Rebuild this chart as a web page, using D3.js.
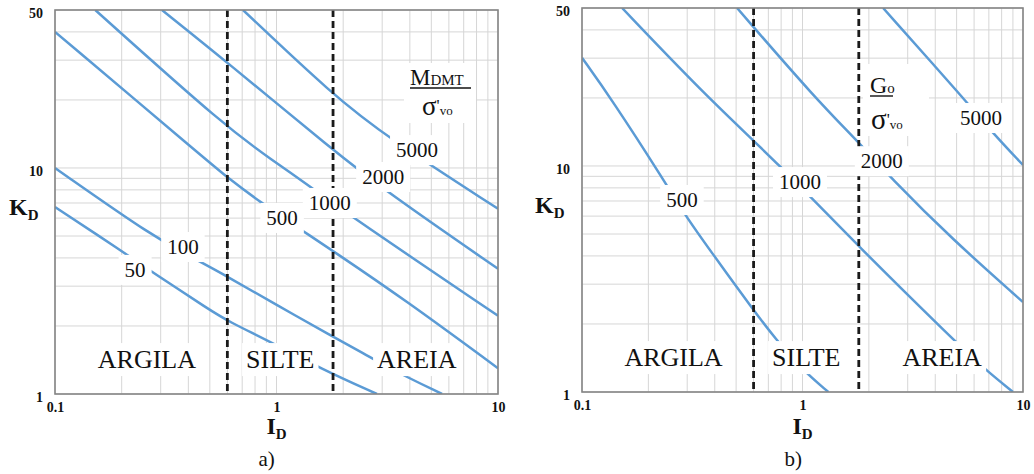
<!DOCTYPE html>
<html><head><meta charset="utf-8">
<script src="https://cdn.jsdelivr.net/npm/d3@7"></script>
<style>body{margin:0;background:#fff}svg{display:block}</style>
</head><body>
<svg id="c" width="1034" height="474"></svg>
<script>
// ---------- data ----------
const xTicks = [0.1, 1, 10];
const yTicks = [1, 10, 50];
const boundaries = [0.6, 1.8];
const zoneNames = ["ARGILA", "SILTE", "AREIA"];
const zoneID = [0.26, 1.04, 4.3];
const zoneKD = 1.42;

// a) M_DMT / sigma'vo
const mNames = ["50", "100", "500", "1000", "2000", "5000"];
const m50_ID   = [0.1, 0.203, 0.274, 0.501, 0.604, 0.964, 1.57, 2.84];
const m50_KD   = [6.72, 4.25, 3.47, 2.35, 2.10, 1.68, 1.30, 1.0];
const m100_ID  = [0.1, 0.283, 0.42, 0.617, 0.964, 1.80, 2.46, 3.32, 5.59];
const m100_KD  = [10, 4.90, 4.0, 3.26, 2.53, 1.79, 1.52, 1.28, 1.0];
const m500_ID  = [0.1, 0.486, 0.604, 0.843, 1.32, 1.80, 3.80, 10];
const m500_KD  = [40, 10.8, 9.03, 7.07, 5.25, 4.29, 2.61, 1.30];
const m1000_ID = [0.152, 0.598, 0.964, 1.39, 2.22, 10];
const m1000_KD = [50, 15.0, 10.8, 8.4, 6.01, 2.22];
const m2000_ID = [0.304, 0.598, 1.80, 3.15, 10];
const m2000_KD = [50, 29.4, 12.0, 7.83, 3.58];
const m5000_ID = [0.706, 1.80, 3.19, 10];
const m5000_KD = [50, 21.0, 13.6, 6.6];
const mLabelID = [0.23, 0.378, 1.06, 1.74, 3.03, 4.31];
const mLabelKD = [3.54, 4.47, 6.01, 7.0, 9.12, 12.0];

// b) G0 / sigma'vo
const gNames = ["500", "1000", "2000", "5000"];
const g500_ID  = [0.1, 0.137, 0.238, 0.293, 0.380, 0.597, 0.750, 1.00, 1.31];
const g500_KD  = [30.1, 19.6, 8.49, 6.07, 4.25, 2.31, 1.73, 1.25, 1.0];
const g1000_ID = [0.152, 0.380, 0.774, 1.82, 4.76, 6.59, 9.01];
const g1000_KD = [50, 19.6, 10.3, 4.34, 1.73, 1.28, 1.0];
const g2000_ID = [0.505, 1.16, 1.79, 2.49, 4.81, 10];
const g2000_KD = [50, 19.6, 12.8, 8.94, 4.71, 2.50];
const g5000_ID = [2.32, 5.46, 7.24, 10];
const g5000_KD = [50, 19.6, 14.1, 10.1];
const gLabelID = [0.284, 0.974, 2.29, 6.45];
const gLabelKD = [7.07, 8.49, 10.5, 16.3];

// ---------- drawing ----------
const svg = d3.select("#c");
svg.append("rect").attr("width", 1034).attr("height", 474).attr("fill", "#fff");
const SERIF = "'Liberation Serif','Times New Roman',serif";
const BLUE = "#5b9bd5";

function zip(a, b) { return a.map((v, i) => [v, b[i]]); }

function labelBox(g, x, y, txt, size, padX, padY) {
  const grp = g.append("g");
  const t = grp.append("text").attr("x", x).attr("y", y).attr("text-anchor", "middle")
    .attr("dominant-baseline", "central").attr("font-family", SERIF).attr("font-size", size)
    .attr("fill", "#111").text(txt);
  const b = t.node().getBBox();
  grp.insert("rect", "text").attr("x", b.x - padX).attr("y", b.y - padY)
    .attr("width", b.width + 2 * padX).attr("height", b.height + 2 * padY).attr("fill", "#fff");
}

function panel(cfg) {
  const x = d3.scaleLog().domain([0.1, 10]).range([cfg.x0, cfg.x1]);
  const y = d3.scaleLog().domain([1, 50]).range([cfg.y1, cfg.y0]);
  const g = svg.append("g");
  const id = "clip" + cfg.key;
  svg.append("clipPath").attr("id", id).append("rect")
    .attr("x", cfg.x0).attr("y", cfg.y0).attr("width", cfg.x1 - cfg.x0).attr("height", cfg.y1 - cfg.y0);

  // grid
  const grid = g.append("g").attr("stroke", "#d6d6d6").attr("stroke-width", 1);
  grid.selectAll("line.v").data(x.ticks()).join("line")
    .attr("x1", d => x(d)).attr("x2", d => x(d)).attr("y1", cfg.y0).attr("y2", cfg.y1);
  grid.selectAll("line.h").data(y.ticks()).join("line")
    .attr("y1", d => y(d)).attr("y2", d => y(d)).attr("x1", cfg.x0).attr("x2", cfg.x1);

  // curves
  const line = d3.line().x(d => x(d[0])).y(d => y(d[1])).curve(d3.curveBasis);
  g.append("g").attr("clip-path", `url(#${id})`).selectAll("path").data(cfg.series).join("path")
    .attr("d", d => line(d)).attr("fill", "none").attr("stroke", BLUE).attr("stroke-width", 2.5);

  // boundaries
  g.selectAll("line.b").data(boundaries).join("line")
    .attr("x1", d => x(d)).attr("x2", d => x(d)).attr("y1", cfg.y0).attr("y2", cfg.y1)
    .attr("stroke", "#1a1a1a").attr("stroke-width", 2.8).attr("stroke-dasharray", "7,4");

  // curve labels
  cfg.labels.forEach((t, i) => labelBox(g, x(cfg.labelID[i]), y(cfg.labelKD[i]), t, 21, 6, 3));
  // zone labels
  zoneNames.forEach((t, i) => labelBox(g, x(zoneID[i]), y(zoneKD), t, 26, 4, 2));

  // border
  g.append("rect").attr("x", cfg.x0).attr("y", cfg.y0).attr("width", cfg.x1 - cfg.x0)
    .attr("height", cfg.y1 - cfg.y0).attr("fill", "none").attr("stroke", "#858585").attr("stroke-width", 1.6);

  // axes
  const ax = g.append("g").attr("transform", `translate(0,${cfg.y1})`)
    .call(d3.axisBottom(x).tickValues(xTicks).tickSize(0).tickPadding(8).tickFormat(d3.format("~g")));
  const ay = g.append("g").attr("transform", `translate(${cfg.x0},0)`)
    .call(d3.axisLeft(y).tickValues(yTicks).tickSize(0).tickPadding(12).tickFormat(d3.format("~g")));
  [ax, ay].forEach(a => {
    a.select(".domain").remove();
    a.selectAll("text").attr("font-family", SERIF).attr("font-weight", "bold")
      .attr("font-size", 14).attr("fill", "#111");
  });
  ay.selectAll("text").attr("dy", "0.55em");

  // axis titles
  const kt = g.append("text").attr("x", cfg.kx).attr("y", cfg.ky).attr("font-family", SERIF)
    .attr("font-weight", "bold").attr("fill", "#111");
  kt.append("tspan").attr("font-size", 24).text("K");
  kt.append("tspan").attr("font-size", 15).attr("dy", 5).text("D");
  const it = g.append("text").attr("x", x(1) - 10).attr("y", 434).attr("font-family", SERIF)
    .attr("font-weight", "bold").attr("fill", "#111");
  it.append("tspan").attr("font-size", 24).text("I");
  it.append("tspan").attr("font-size", 15).attr("dy", 5).text("D");
  g.append("text").attr("x", x(1) - 18).attr("y", 466).attr("font-family", SERIF)
    .attr("font-size", 21).attr("fill", "#111").text(cfg.caption);
  return g;
}

const gA = panel({
  key: "a", x0: 55, x1: 498, y0: 10, y1: 394, kx: 9, ky: 215, caption: "a)",
  series: [zip(m50_ID, m50_KD), zip(m100_ID, m100_KD), zip(m500_ID, m500_KD),
           zip(m1000_ID, m1000_KD), zip(m2000_ID, m2000_KD), zip(m5000_ID, m5000_KD)],
  labels: mNames, labelID: mLabelID, labelKD: mLabelKD
});
const gB = panel({
  key: "b", x0: 582, x1: 1023, y0: 8, y1: 392, kx: 535, ky: 213, caption: "b)",
  series: [zip(g500_ID, g500_KD), zip(g1000_ID, g1000_KD), zip(g2000_ID, g2000_KD), zip(g5000_ID, g5000_KD)],
  labels: gNames, labelID: gLabelID, labelKD: gLabelKD
});

// ratio annotations
function ratio(g, box, x, yTop, num, numSub, numSize, width, sx, sy, sSize) {
  g.append("rect").attr("x", box[0]).attr("y", box[1]).attr("width", box[2]).attr("height", box[3]).attr("fill", "#fff");
  const t = g.append("text").attr("x", x).attr("y", yTop).attr("font-family", SERIF).attr("fill", "#111");
  t.append("tspan").attr("font-size", numSize).text(num);
  t.append("tspan").attr("font-size", 15).text(numSub);
  g.append("line").attr("x1", x).attr("x2", x + width).attr("y1", yTop + 3).attr("y2", yTop + 3)
    .attr("stroke", "#111").attr("stroke-width", 1.4);
  const s = g.append("text").attr("x", sx).attr("y", sy).attr("font-family", SERIF).attr("fill", "#111");
  s.append("tspan").attr("font-size", sSize).text("σ");
  s.append("tspan").attr("font-size", 17).attr("dy", -4).text("'");
  s.append("tspan").attr("font-size", 13).attr("dy", 4).text("vo");
}
ratio(gA, [404, 63, 72, 60], 410, 85, "M", "DMT", 23, 61, 422, 115, 27);
ratio(gB, [863, 64, 66, 72], 870, 93, "G", "o", 24, 23, 871, 129, 29);
</script>
</body></html>
